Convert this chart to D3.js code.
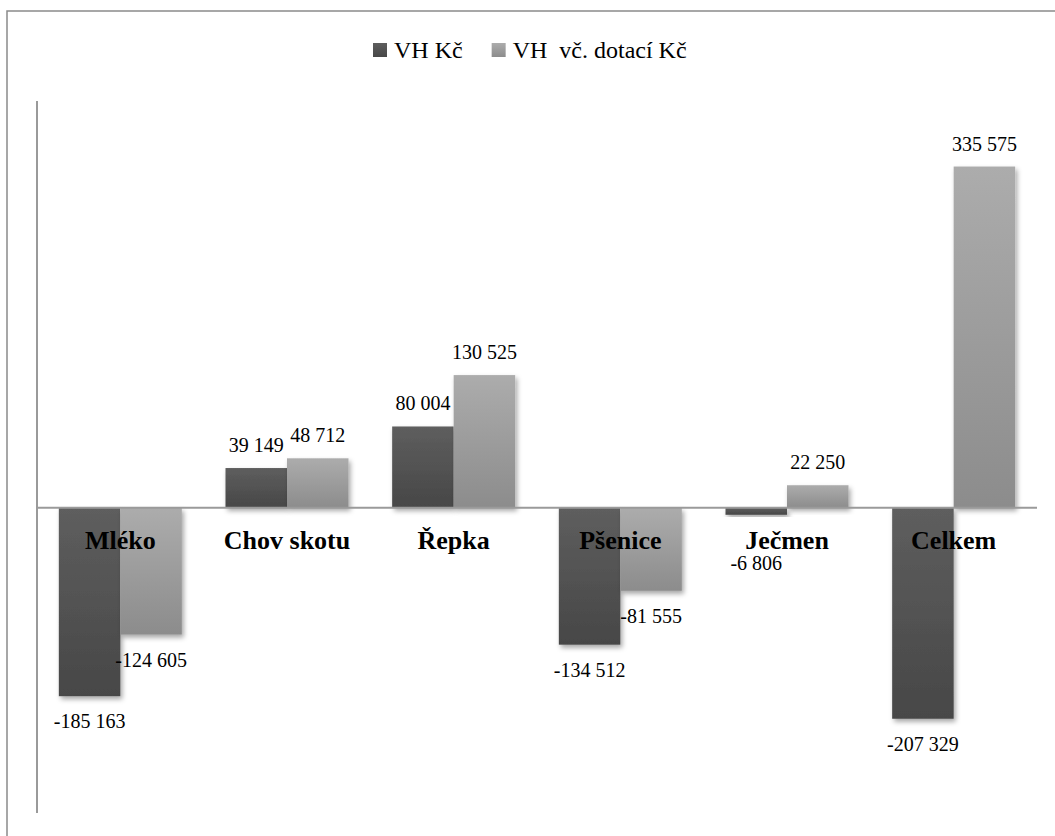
<!DOCTYPE html>
<html>
<head>
<meta charset="utf-8">
<script src="https://cdn.jsdelivr.net/npm/d3@7"></script>
<style>
  body { margin: 0; background: #fff; }
</style>
</head>
<body>
<svg id="chart" width="1055" height="836"></svg>
<script>
// data
var categories = ['Mléko', 'Chov skotu', 'Řepka', 'Pšenice', 'Ječmen', 'Celkem'];
var seriesNames = ['VH Kč', 'VH  vč. dotací Kč'];
var vhKc = [-185163, 39149, 80004, -134512, -6806, -207329];
var vhDotaceKc = [-124605, 48712, 130525, -81555, 22250, 335575];

var rows = categories.map(function (c, i) {
    return { cat: c, values: [vhKc[i], vhDotaceKc[i]] };
});

var fmt = d3.formatLocale({ decimal: ',', thousands: ' ', grouping: [3], currency: ['', ''], minus: '-' }).format(',d');
var serif = "'Liberation Serif'";

var svg = d3.select('#chart');
var margin = { top: 101, bottom: 23, left: 37, right: 18 };
var W = 1055, H = 836;

// gradients + shadow
var defs = svg.append('defs');
var grads = [['gDark', '#5e5e5e', '#474747'], ['gLight', '#acacac', '#8c8c8c']];
grads.forEach(function (g) {
    var lg = defs.append('linearGradient').attr('id', g[0])
        .attr('x1', 0).attr('y1', 0).attr('x2', 0).attr('y2', 1);
    lg.append('stop').attr('offset', '0%').attr('stop-color', g[1]);
    lg.append('stop').attr('offset', '100%').attr('stop-color', g[2]);
});
defs.append('filter').attr('id', 'shadow')
    .attr('x', '-20%').attr('y', '-20%').attr('width', '150%').attr('height', '150%')
    .append('feDropShadow')
    .attr('dx', 2).attr('dy', 3).attr('stdDeviation', 2.5)
    .attr('flood-color', '#000').attr('flood-opacity', 0.35);
var fills = ['url(#gDark)', 'url(#gLight)'];

// frame
svg.append('rect')
    .attr('x', 7).attr('y', 11)
    .attr('width', W + 20).attr('height', H + 20)
    .attr('fill', 'none').attr('stroke', '#8a8a8a').attr('stroke-width', 1.5);

// scales
var x0 = d3.scaleBand().domain(categories).range([margin.left, W - margin.right]).padding(0);
var gap = x0.bandwidth() * 0.131;
var x1 = d3.scaleBand().domain([0, 1]).range([gap, x0.bandwidth() - gap]).padding(0);
var y = d3.scaleLinear().domain([-300000, 400000]).range([H - margin.bottom, margin.top]);

// bars
var groups = svg.append('g').selectAll('g')
    .data(rows).enter().append('g')
    .attr('transform', function (d) { return 'translate(' + x0(d.cat) + ',0)'; });

groups.selectAll('rect')
    .data(function (d) { return d.values.map(function (v, i) { return { v: v, i: i }; }); })
    .enter().append('rect')
    .attr('x', function (d) { return x1(d.i); })
    .attr('width', x1.bandwidth())
    .attr('y', function (d) { return y(Math.max(0, d.v)); })
    .attr('height', function (d) { return Math.abs(y(d.v) - y(0)); })
    .attr('fill', function (d) { return fills[d.i]; })
    .attr('filter', 'url(#shadow)');

// axes lines
svg.append('line')
    .attr('x1', margin.left).attr('x2', margin.left)
    .attr('y1', y(400000)).attr('y2', y(-300000))
    .attr('stroke', '#9a9a9a').attr('stroke-width', 2);
svg.append('line')
    .attr('x1', margin.left).attr('x2', W - margin.right)
    .attr('y1', y(0)).attr('y2', y(0))
    .attr('stroke', '#9a9a9a').attr('stroke-width', 2);

// value labels (small negatives get pushed below the category label)
groups.selectAll('text.val')
    .data(function (d) { return d.values.map(function (v, i) { return { v: v, i: i }; }); })
    .enter().append('text')
    .attr('class', 'val')
    .attr('x', function (d) { return x1(d.i) + x1.bandwidth() / 2; })
    .attr('y', function (d) {
        return d.v >= 0 ? y(d.v) - 16 : Math.max(y(d.v) + 32, y(0) + 62);
    })
    .attr('text-anchor', 'middle')
    .style('font-family', serif)
    .style('font-size', '20px')
    .attr('fill', '#000')
    .text(function (d) { return fmt(d.v); });

// category labels
svg.append('g').selectAll('text')
    .data(categories).enter().append('text')
    .attr('x', function (d) { return x0(d) + x0.bandwidth() / 2; })
    .attr('y', y(0) + 41)
    .attr('text-anchor', 'middle')
    .style('font-family', serif)
    .style('font-size', '26px')
    .style('font-weight', 'bold')
    .text(function (d) { return d; });

// legend
var legend = svg.append('g').attr('class', 'legend');
var lx = 373;
seriesNames.forEach(function (s, i) {
    legend.append('rect')
        .attr('x', lx).attr('y', 43).attr('width', 14).attr('height', 14)
        .attr('fill', fills[i]);
    var t = legend.append('text')
        .attr('x', lx + 21).attr('y', 58)
        .style('font-family', serif)
        .style('font-size', '24px')
        .style('white-space', 'pre')
        .text(s);
    lx += 21 + t.node().getComputedTextLength() + 29;
});
</script>
</body>
</html>
